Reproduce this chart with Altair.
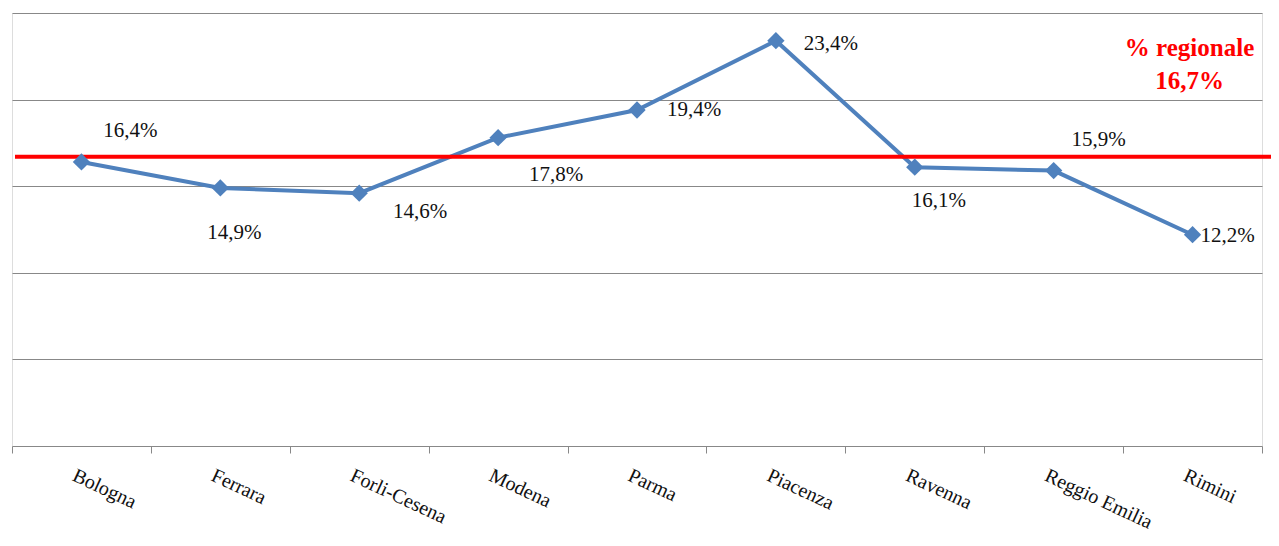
import altair as alt
import pandas as pd

province = ["Bologna", "Ferrara", "Forli-Cesena", "Modena", "Parma",
            "Piacenza", "Ravenna", "Reggio Emilia", "Rimini"]
valori = [16.4, 14.9, 14.6, 17.8, 19.4, 23.4, 16.1, 15.9, 12.2]
etichette = ["16,4%", "14,9%", "14,6%", "17,8%", "19,4%", "23,4%", "16,1%", "15,9%", "12,2%"]
regionale = 16.7
regionale_testo = ["% regionale", "16,7%"]
griglia = [5, 10, 15, 20, 25]

df = pd.DataFrame({"provincia": province, "valore": valori, "etichetta": etichette})

# label offsets (style, not data)
offsets = {
    "Bologna": (49, -31), "Ferrara": (14, 45), "Forli-Cesena": (61, 19),
    "Modena": (58, 37), "Parma": (57, 0), "Piacenza": (55, 3),
    "Ravenna": (24, 34), "Reggio Emilia": (45, -31), "Rimini": (35, 1),
}

FONT = "Liberation Serif"
W, H = 1250, 433

x_enc = alt.X("provincia:N", sort=province,
              scale=alt.Scale(paddingInner=0, paddingOuter=0),
              axis=alt.Axis(title=None, tickBand="extent", labelAngle=25,
                            labelAlign="left", labelBaseline="top",
                            labelFont=FONT, labelFontSize=20, labelColor="#111",
                            labelPadding=12, labelOffset=-4,
                            domainColor="#888", tickColor="#888", tickSize=7,
                            grid=False))
y_scale = alt.Scale(domain=[0, 25], nice=False)
y_enc = alt.Y("valore:Q", scale=y_scale,
              axis=alt.Axis(title=None, labels=False, ticks=False, domain=False,
                            values=griglia, grid=True, gridColor="#888",
                            gridWidth=1.2))

base = alt.Chart(df)

line = base.mark_line(color="#4F81BD", strokeWidth=4).encode(x=x_enc, y=y_enc)
points = base.mark_point(shape="diamond", filled=True, size=300, color="#4F81BD",
                         opacity=1).encode(x="provincia:N", y="valore:Q")

rule = alt.Chart(pd.DataFrame({"v": [regionale]})).mark_rule(
    color="#FF0000", strokeWidth=4).encode(
    y=alt.Y("v:Q", scale=y_scale), x=alt.value(3), x2=alt.value(W + 13))

label_layers = []
for p in province:
    dx, dy = offsets[p]
    label_layers.append(
        base.transform_filter(alt.datum.provincia == p).mark_text(
            font=FONT, fontSize=21, color="#111", dx=dx, dy=dy,
            align="center", baseline="middle").encode(
            x="provincia:N", y="valore:Q", text="etichetta:N"))

reg_text = alt.Chart(pd.DataFrame({"p": ["Rimini"], "v": [23.0]})).mark_text(
    font=FONT, fontSize=25, fontWeight="bold", color="#FF0000",
    align="center", baseline="middle", lineHeight=33, dx=-3,
    text=regionale_testo).encode(
    x=alt.X("p:N", sort=province), y=alt.Y("v:Q", scale=y_scale))

chart = alt.layer(line, rule, points, *label_layers, reg_text).properties(
    width=W, height=H,
    autosize=alt.AutoSizeParams(type="none"),
    padding={"left": 4, "top": 5, "right": 9, "bottom": 94},
).configure_view(stroke=None).configure(background="white")

chart.save("out.html", embed_options={"renderer": "svg", "actions": False})
